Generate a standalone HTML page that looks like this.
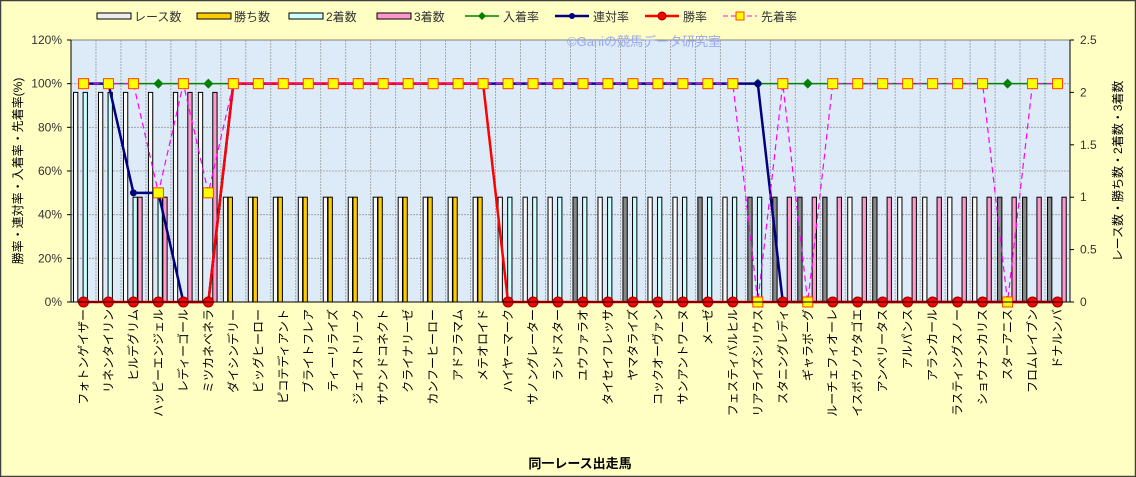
<!DOCTYPE html>
<html><head><meta charset="utf-8"><style>
body{margin:0;background:#fff}
svg{display:block;font-family:"Liberation Sans","Noto Sans CJK JP",sans-serif}
</style></head><body>
<svg id="s" width="1136" height="477" viewBox="0 0 1136 477" xmlns="http://www.w3.org/2000/svg">
<rect x="0.5" y="0.5" width="1135" height="476" fill="#FFFFC4" stroke="#404040" stroke-width="1.5"/>
<rect x="71" y="40" width="999" height="262" fill="#DDEBF8" stroke="#808080"/>
<g id="g"></g>
<text x="567" y="46" font-size="13" fill="#9AA8F0">©Ganiの競馬データ研究室</text>
<text x="580" y="468" font-size="13" font-weight="bold" text-anchor="middle">同一レース出走馬</text>
<text transform="translate(22,171) rotate(-90)" font-size="12" text-anchor="middle">勝率・連対率・入着率・先着率(%)</text>
<text transform="translate(1122,171) rotate(-90)" font-size="12" text-anchor="middle">レース数・勝ち数・2着数・3着数</text>
<g font-size="12" fill="#333">
<rect x="97" y="13" width="34" height="6" fill="#eee" stroke="#000"/><text x="134" y="21">レース数</text>
<rect x="197" y="13" width="34" height="6" fill="#FFCC00" stroke="#000"/><text x="234" y="21">勝ち数</text>
<rect x="289" y="13" width="34" height="6" fill="#CCFFFF" stroke="#000"/><text x="326" y="21">2着数</text>
<rect x="377" y="13" width="34" height="6" fill="#FF99CC" stroke="#000"/><text x="414" y="21">3着数</text>
<line x1="465" y1="16" x2="499" y2="16" stroke="#008000" stroke-width="1.5"/><path d="M482 12l4 4-4 4-4-4z" fill="#008000"/><text x="503" y="21">入着率</text>
<line x1="555" y1="16" x2="589" y2="16" stroke="#000080" stroke-width="2.5"/><circle cx="572" cy="16" r="3" fill="#000080"/><text x="593" y="21">連対率</text>
<line x1="645" y1="16" x2="679" y2="16" stroke="#FF0000" stroke-width="2.5"/><circle cx="662" cy="16" r="4" fill="#f00" stroke="#800"/><text x="683" y="21">勝率</text>
<line x1="723" y1="16" x2="757" y2="16" stroke="#FF00FF" stroke-dasharray="5,3"/><rect x="736" y="12" width="8" height="8" fill="#FFFF00" stroke="#f40"/><text x="761" y="21">先着率</text>
</g>
</svg>
<script>
const names=["フォトンゲイザー","リネンタイリン","ヒルデグリム","ハッピーエンジェル","レディーゴール","ミツカネベネラ","ダイシンデリー","ビッグヒーロー","ピコテディアント","ブライトフレア","ティーリライズ","ジェイストリーク","サウンドコネクト","クライナリーゼ","カンフーヒーロー","アドフラマム","メテオロイド","ハイヤーマーク","サノングレーター","ランドスター","ユウファラオ","タイセイフレッサ","ヤマタライズ","コックオーヴァン","サンアントワーヌ","メーゼ","フェスティバルヒル","リアライズシリウス","スタニングレディ","ギャラボーグ","ルーチェフィオーレ","イスボウノウタゴエ","アンベリータス","アルパンス","アランカール","ラスティングスノー","ショウナンカリス","スターアニス","フロムレイブン","ドナルンバ"];
const N=40,X0=71,W=999,cw=W/N,Y0=302,H=262;
const gray=new Set([21,23,26,28,29,30,31,33,38,39,40]);
let d=[];
for(let i=1;i<=N;i++){
 let o={r:1,w:0,s:0,t:0,win:0,ren:100,ent:100,sen:100};
 if(i<=6)o.r=2;
 if(i<=2){o.s=2;}
 else if(i<=4){o.s=1;o.t=1;o.ren=50;}
 else if(i<=6){o.t=2;o.ren=0;}
 else if(i<=17){o.w=1;o.win=100;}
 else if(i<=28){o.s=1;}
 else {o.t=1;o.ren=0;}
 if([4,6].includes(i))o.sen=50;
 if([28,30,38].includes(i))o.sen=0;
 d.push(o);
}
let h='';
const yp=v=>Y0-v/120*H, yc=v=>Y0-v/2.5*H, cx=i=>X0+cw*(i+0.5);
for(let k=1;k<6;k++){let y=Y0-k*H/6;h+=`<line x1="${X0}" x2="${X0+W}" y1="${y}" y2="${y}" stroke="#999" stroke-dasharray="2,1" stroke-width="0.8"/>`;}
for(let i=1;i<N;i++){let x=X0+cw*i;h+=`<line x1="${x}" x2="${x}" y1="40" y2="${Y0}" stroke="#999" stroke-dasharray="2,1" stroke-width="0.8"/>`;}
d.forEach((o,i)=>{
 const s=X0+cw*i+2.5;
 const bar=(k,v,f)=>{if(v>0)h+=`<rect x="${s+k*4.8}" y="${yc(v)}" width="4.3" height="${Y0-yc(v)}" fill="${f}" stroke="#000" stroke-width="1"/>`;};
 bar(0,o.r,gray.has(i+1)?'#888':'#fafafa');bar(1,o.w,'#FFCC00');bar(2,o.s,'#CCFFFF');bar(3,o.t,'#FF99CC');
 h+=`<text transform="translate(${cx(i)+4},309) rotate(-90)" font-size="12" text-anchor="end">${names[i]}</text>`;
});
const line=(key,c,sw,dash)=>`<polyline fill="none" stroke="${c}" stroke-width="${sw}" ${dash?'stroke-dasharray="6,4"':''} points="${d.map((o,i)=>cx(i)+','+yp(o[key])).join(' ')}"/>`;
h+=line('ent','#008000',1.5);
d.forEach((o,i)=>{let x=cx(i),y=yp(o.ent);h+=`<path d="M${x} ${y-5}l5 5-5 5-5-5z" fill="#008000"/>`;});
h+=line('ren','#000080',2.5);
d.forEach((o,i)=>{h+=`<circle cx="${cx(i)}" cy="${yp(o.ren)}" r="3.5" fill="#000080"/>`;});
h+=line('win','#FF0000',2.5);
d.forEach((o,i)=>{h+=`<circle cx="${cx(i)}" cy="${yp(o.win)}" r="5" fill="#f00" stroke="#900"/>`;});
h+=line('sen','#FF00FF',1.2,1);
d.forEach((o,i)=>{h+=`<rect x="${cx(i)-5}" y="${yp(o.sen)-5}" width="10" height="10" fill="#FFFF00" stroke="#FF4000"/>`;});
for(let k=0;k<=6;k++){let y=Y0-k*H/6;h+=`<text x="62" y="${y+4}" font-size="12" fill="#333" text-anchor="end">${k*20}%</text><line x1="67" x2="71" y1="${y}" y2="${y}" stroke="#000"/>`;}
for(let k=0;k<=5;k++){let y=Y0-k*H/5;h+=`<text x="1080" y="${y+4}" font-size="12" fill="#333">${k*0.5}</text><line x1="1070" x2="1074" y1="${y}" y2="${y}" stroke="#000"/>`;}
h+=`<line x1="${X0}" x2="${X0}" y1="40" y2="${Y0}" stroke="#000"/><line x1="1070" x2="1070" y1="40" y2="${Y0}" stroke="#000"/><line x1="${X0}" x2="1070" y1="${Y0}" y2="${Y0}" stroke="#000"/>`;
document.getElementById('g').innerHTML=h;
</script>
</body></html>
